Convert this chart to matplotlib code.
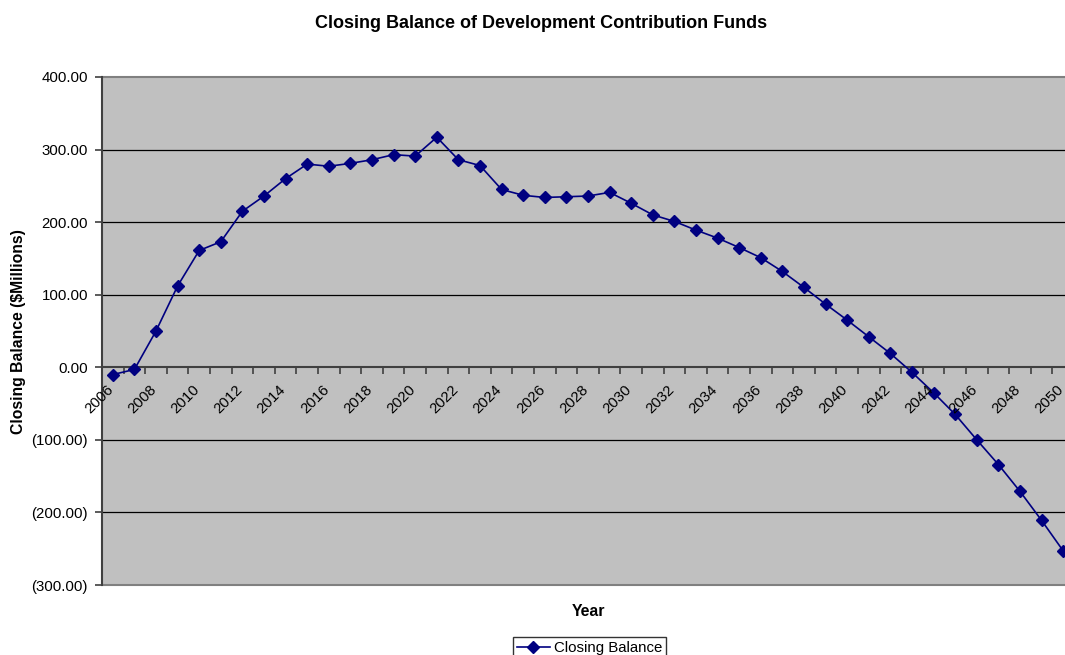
import matplotlib
matplotlib.use("Agg")
import matplotlib.pyplot as plt
from matplotlib.ticker import FuncFormatter, FixedLocator
from matplotlib.lines import Line2D

plt.rcParams['font.family'] = ['Liberation Sans', 'DejaVu Sans']

years = list(range(2006, 2051))
closing_balance = [
    -10, -3, 50, 112, 161, 173, 215, 236, 260, 280,
    277, 281, 286, 293, 291, 317, 286, 278, 245, 237,
    234, 235, 236, 241, 226, 210, 201, 189, 178, 165,
    151, 132, 110, 87, 65, 42, 19, -7, -35, -65,
    -100, -134, -171, -211, -253,
]
year_labels = [str(y) for y in years[::2]]

W, H = 1065, 655
fig = plt.figure(figsize=(W / 100, H / 100), dpi=100)
fig.patch.set_facecolor('white')

# plot area in pixels (the category axis runs slightly past the right edge)
left, top, bottom = 102, 77, 585
n = len(years)
step = 21.6
right = left + n * step
ax = fig.add_axes([left / W, 1 - bottom / H, (right - left) / W, (bottom - top) / H])
ax.set_facecolor('#C0C0C0')

x = list(range(n))
ax.plot(x, closing_balance, color='#000080', lw=1.2, marker='D', ms=6.5,
        mec='#000080', mfc='#000080', zorder=4, clip_on=False)

ax.set_xlim(-0.5, n - 0.5)
ax.set_ylim(-300, 400)

# horizontal gridlines
for yv in range(-200, 400, 100):
    if yv != 0:
        ax.axhline(yv, color='black', lw=0.9, zorder=1)

# spines: left axis dark, frame grey, category axis at zero
for s in ('top', 'right'):
    ax.spines[s].set_visible(False)
ax.spines['left'].set_color('#404040')
ax.spines['left'].set_linewidth(1.5)
ax.spines['bottom'].set_position(('data', 0))
ax.spines['bottom'].set_color('#404040')
ax.spines['bottom'].set_linewidth(1.5)
ax.spines['bottom'].set_zorder(3)
ax.axhline(400, color='#808080', lw=1.5, zorder=2, clip_on=False)
ax.axhline(-300, color='#808080', lw=1.5, zorder=2, clip_on=False)

# y axis
ax.yaxis.set_major_locator(FixedLocator(range(-300, 401, 100)))


def money(v, pos):
    return f"({abs(v):.2f})" if v < 0 else f"{v:.2f}"


ax.yaxis.set_major_formatter(FuncFormatter(money))
ax.tick_params(axis='y', direction='out', length=5, width=1.2, color='#404040',
               labelsize=10.8, pad=5)

# x axis: tick marks between categories, labels every other year
ax.set_xticks([i - 0.5 for i in range(n + 1)])
ax.set_xticklabels([])
ax.tick_params(axis='x', direction='out', length=5, width=1.2, color='#404040')
for i, lab in zip(x[::2], year_labels):
    ax.annotate(lab, xy=(i, 0), xycoords='data', xytext=(-5, -11),
                textcoords='offset points', rotation=45, ha='right', va='top',
                rotation_mode='anchor', fontsize=10.8, zorder=5,
                annotation_clip=False)

fig.text(541 / W, 1 - 24 / H, 'Closing Balance of Development Contribution Funds',
         ha='center', va='center', fontsize=13, fontweight='bold')
fig.text(19 / W, 1 - 332 / H, 'Closing Balance ($Millions)', rotation=90,
         ha='center', va='center', fontsize=11.3, fontweight='bold')
fig.text(589 / W, 1 - 611 / H, 'Year', ha='center', va='center',
         fontsize=11.4, fontweight='bold')

handle = Line2D([], [], color='#000080', lw=1.2, marker='D', ms=6.5)
fig.legend([handle], ['Closing Balance'], loc='upper center',
           bbox_to_anchor=(589.5 / W, 1 - 637 / H), frameon=True, fancybox=False,
           edgecolor='black', fontsize=10.8, handlelength=2.2, borderpad=0.25,
           handletextpad=0.3, borderaxespad=0)

fig.savefig('out.png', dpi=100)
